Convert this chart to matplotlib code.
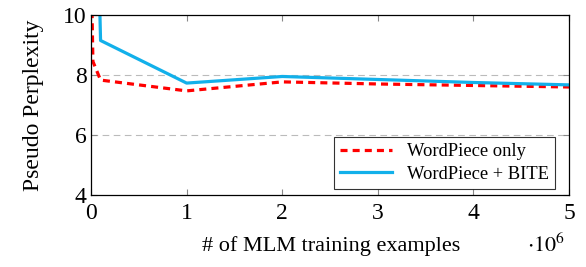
import matplotlib
matplotlib.use('Agg')
import matplotlib.pyplot as plt

# x in units of 10^6 training examples
wp_x = [0.0, 0.02, 0.1, 1, 2, 3, 4, 5]
wp_y = [12.0, 8.45, 7.83, 7.47, 7.77, 7.7, 7.65, 7.6]
bite_x = [0.07, 0.1, 1, 2, 3, 4, 5]
bite_y = [13.0, 9.15, 7.73, 7.95, 7.85, 7.75, 7.67]

xticks = [0, 1, 2, 3, 4, 5]
yticks = [4, 6, 8, 10]

plt.rcParams['font.family'] = ['Liberation Serif', 'DejaVu Serif']
plt.rcParams['mathtext.fontset'] = 'stix'

fig = plt.figure(figsize=(5.86, 2.67), dpi=100)
ax = fig.add_axes([0.1553, 0.2697, 0.8157, 0.6742])

for y in [6, 8]:
    ax.axhline(y, color='#bbbbbb', lw=0.8, ls=(0, (6, 4)), zorder=0)

ax.plot(wp_x, wp_y, color='#ff0000', lw=2.3, ls=(0, (2.2, 1.6)),
        label='WordPiece only')
ax.plot(bite_x, bite_y, color='#12b0ea', lw=2.3, label='WordPiece + BITE')

ax.set_xlim(0, 5)
ax.set_ylim(4, 10)
ax.set_xticks(xticks)
ax.set_yticks(yticks)
ax.tick_params(direction='in', length=4, width=0.8, color='#888888',
               top=True, right=True, labelsize=17)
ax.tick_params(axis='x', pad=6)
ax.tick_params(axis='y', pad=3)
for s in ax.spines.values():
    s.set_linewidth(0.9)

ax.set_ylabel('Pseudo Perplexity', fontsize=17, labelpad=14)
fig.text(0.565, 0.08, '# of MLM training examples', fontsize=16,
         ha='center', va='center')
fig.text(0.965, 0.08, r'$\cdot 10^6$', fontsize=16, ha='right', va='center')

leg = ax.legend(loc='lower right', bbox_to_anchor=(0.971, 0.033),
                borderaxespad=0, fontsize=13.3,
                frameon=True, fancybox=False, edgecolor='black',
                handlelength=2.8, borderpad=0.35, labelspacing=0.3)
leg.get_frame().set_linewidth(0.8)

fig.savefig('out.png', dpi=100)
